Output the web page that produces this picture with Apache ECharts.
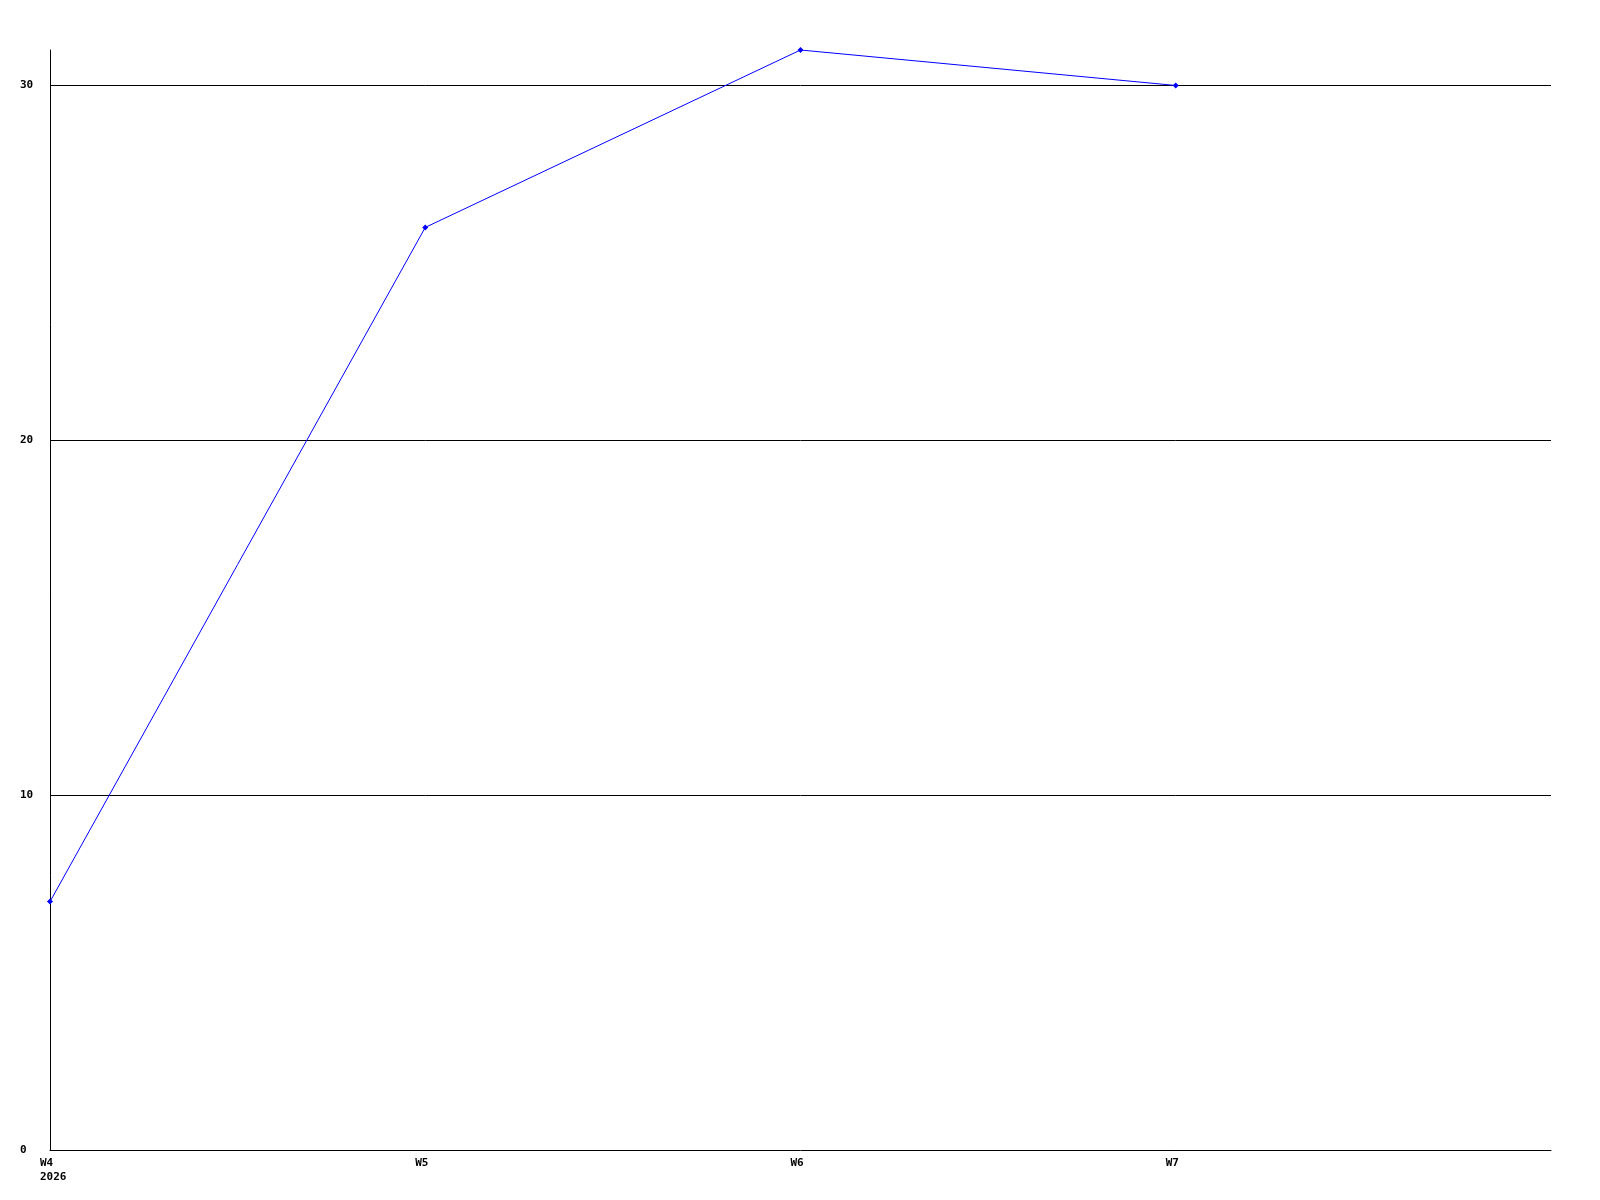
<!DOCTYPE html>
<html>
<head>
<meta charset="utf-8">
<script src="https://cdn.jsdelivr.net/npm/echarts@6/dist/echarts.min.js"></script>
<style>
  html, body { margin: 0; padding: 0; background: #fff; }
  #chart { width: 1600px; height: 1200px; }
</style>
</head>
<body>
<div id="chart"></div>
<script>
  // data
  var weeks = ['W4', 'W5', 'W6', 'W7'];
  var yearLabel = '2026';
  var counts = [7, 26, 31, 30];
  var yTicks = [0, 10, 20, 30];

  var seriesData = [];
  for (var i = 0; i < counts.length; i++) {
    seriesData.push([i, counts[i]]);
  }

  var labelFont = {
    fontFamily: '"DejaVu Sans Mono", monospace',
    fontSize: 11,
    fontWeight: 'bold',
    color: '#000'
  };

  var myChart = echarts.init(document.getElementById('chart'));
  var option = {
    animation: false,
    grid: { left: 50, top: 50, right: 49, bottom: 50, containLabel: false },
    xAxis: {
      type: 'value',
      min: 0,
      max: weeks.length,
      interval: 1,
      splitLine: { show: false },
      axisTick: { show: false },
      axisLine: { show: true, lineStyle: { color: '#000', width: 1 } },
      axisLabel: Object.assign({
        align: 'left',
        margin: 6,
        lineHeight: 14,
        padding: [0, 0, 0, -10],
        showMaxLabel: false,
        formatter: function (v) {
          var w = weeks[v];
          if (!w) return '';
          return v === 0 ? w + '\n' + yearLabel : w;
        }
      }, labelFont)
    },
    yAxis: {
      type: 'value',
      min: 0,
      max: 31,
      interval: 10,
      axisTick: { show: false },
      axisLine: { show: true, lineStyle: { color: '#000', width: 1 } },
      splitLine: { show: true, showMinLine: false, showMaxLine: false, lineStyle: { color: '#000', width: 1 } },
      axisLabel: Object.assign({
        align: 'left',
        margin: 30,
        formatter: function (v) {
          return yTicks.indexOf(v) >= 0 ? String(v) : '';
        }
      }, labelFont)
    },
    series: [{
      type: 'line',
      data: seriesData,
      symbol: 'diamond',
      symbolSize: 6,
      lineStyle: { color: '#0000ff', width: 1 },
      itemStyle: { color: '#0000ff' }
    }]
  };
  myChart.setOption(option);
</script>
</body>
</html>
